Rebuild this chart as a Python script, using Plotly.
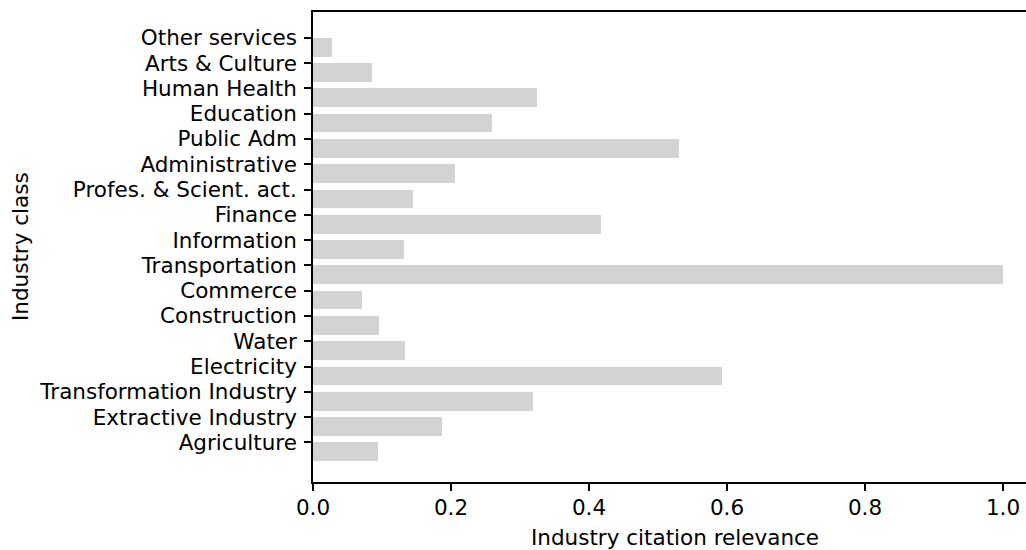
import plotly.graph_objects as go

# Industry classes, listed bottom to top
industries = [
    "Agriculture", "Extractive Industry", "Transformation Industry", "Electricity",
    "Water", "Construction", "Commerce", "Transportation", "Information",
    "Finance", "Profes. & Scient. act.", "Administrative", "Public Adm",
    "Education", "Human Health", "Arts & Culture", "Other services",
]
relevance = [
    0.094, 0.187, 0.319, 0.593,
    0.133, 0.096, 0.071, 1.0, 0.132,
    0.418, 0.145, 0.206, 0.530,
    0.259, 0.325, 0.086, 0.028,
]
x_ticks = [0.0, 0.2, 0.4, 0.6, 0.8, 1.0]

positions = list(range(len(industries)))

FONT = "DejaVu Sans"
FS = 21.5
W, H = 1026, 550
ml, mr, mt, mb = 313, 0, 12, 68

fig = go.Figure(
    go.Bar(
        x=relevance,
        y=positions,
        orientation="h",
        width=0.74,
        offset=-0.74,
        marker=dict(color="#d3d3d3", line=dict(width=0)),
        hoverinfo="x+text",
        text=industries,
        textposition="none",
    )
)

fig.update_layout(
    width=W,
    height=H,
    margin=dict(l=ml, r=mr, t=mt, b=mb),
    plot_bgcolor="white",
    paper_bgcolor="white",
    font=dict(family=FONT, size=FS, color="black"),
    showlegend=False,
    bargap=0,
)

fig.update_xaxes(
    range=[0, (W - ml) / 690.0],
    tickvals=x_ticks,
    ticktext=[f"{v:.1f}" for v in x_ticks],
    showgrid=False,
    zeroline=False,
    showline=True,
    linecolor="black",
    linewidth=1.6,
    mirror=True,
    ticks="outside",
    ticklen=7,
    tickwidth=1.6,
    tickcolor="black",
    ticklabelstandoff=-2,
)

fig.update_yaxes(
    range=[-1.567, 17.02],
    tickvals=positions,
    ticktext=industries,
    showgrid=False,
    zeroline=False,
    showline=True,
    linecolor="black",
    linewidth=1.6,
    mirror=False,
    ticks="outside",
    ticklen=7,
    tickwidth=1.6,
    tickcolor="black",
    ticklabelstandoff=3,
)

plot_w = W - ml - mr
fig.add_annotation(
    text="Industry citation relevance",
    xref="paper", yref="paper",
    x=(675 - ml) / plot_w, y=-(537 - (H - mb)) / (H - mt - mb),
    xanchor="center", yanchor="middle",
    showarrow=False,
    font=dict(family=FONT, size=FS, color="black"),
)
fig.add_annotation(
    text="Industry class",
    xref="paper", yref="paper",
    x=-(ml - 20) / plot_w, y=0.5,
    xanchor="center", yanchor="middle",
    textangle=-90,
    showarrow=False,
    font=dict(family=FONT, size=FS, color="black"),
)

fig.write_html("out.html")
